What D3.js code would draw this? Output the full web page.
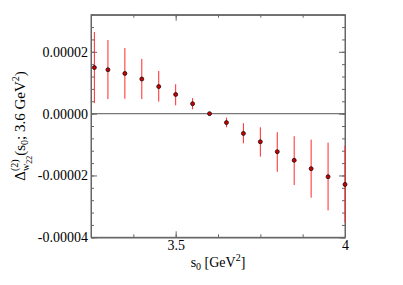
<!DOCTYPE html>
<html><head><meta charset="utf-8">
<script src="https://cdn.jsdelivr.net/npm/d3@7"></script>
<style>body{margin:0;background:#fff}</style>
</head><body>
<svg id="c" width="403" height="285"></svg>
<script>
const s0 = [3.26,3.30,3.35,3.40,3.45,3.50,3.55,3.60,3.65,3.70,3.75,3.80,3.85,3.90,3.95,4.00];
const delta = [14.9e-6,14.2e-6,13.0e-6,11.2e-6,8.75e-6,6.2e-6,3.2e-6,0,-2.9e-6,-6.4e-6,-9.1e-6,-12.3e-6,-15.1e-6,-17.8e-6,-20.4e-6,-22.9e-6];
const errHigh = [26.4e-6,23.8e-6,21.2e-6,17.7e-6,13.8e-6,9.5e-6,5.0e-6,0.2e-6,-1.3e-6,-3.1e-6,-4.4e-6,-6.0e-6,-7.3e-6,-8.4e-6,-9.4e-6,-10.4e-6];
const errLow = [3.4e-6,4.7e-6,4.8e-6,4.7e-6,3.9e-6,2.7e-6,1.4e-6,-0.2e-6,-4.4e-6,-9.6e-6,-13.9e-6,-18.8e-6,-23.1e-6,-27.2e-6,-31.3e-6,-35.2e-6];
const yTicks = [0.00002,0,-0.00002,-0.00004];
const yTickLabels = ["0.00002","0.00000","-0.00002","-0.00004"];
const xTicks = [3.5,4.0];
const xTickLabels = ["3.5","4"];

const svg = d3.select("#c");
const L=91, R=345, T=14.7, B=237.3;
const x = d3.scaleLinear().domain([3.25,4.0]).range([L,R]);
const y = d3.scaleLinear().domain([-0.00004,0.000032]).range([B,T]);
const font = "Liberation Serif";
const frameColor = "#666";

svg.append("line").attr("x1",L).attr("x2",R).attr("y1",y(0)).attr("y2",y(0))
  .attr("stroke","#777").attr("stroke-width",1.2);

const xMinor = d3.range(3.25,4.0001,0.125);
const yMinor = d3.range(-0.00004,0.0000321,0.000004);
function addAxis(axis, tr){
  const g = svg.append("g").attr("transform",tr).call(axis)
    .attr("font-family",font).attr("font-size",14);
  g.selectAll("path,line").attr("stroke",frameColor);
  g.selectAll("text").attr("fill","#000").style("font-family",font).style("font-size","14px");
  return g;
}
addAxis(d3.axisBottom(x).tickValues(xTicks).tickSizeInner(-6).tickSizeOuter(0)
  .tickFormat((d,i)=>xTickLabels[i]).tickPadding(3), `translate(0,${B})`);
addAxis(d3.axisBottom(x).tickValues(xMinor).tickSizeInner(-3).tickSizeOuter(0).tickFormat(""), `translate(0,${B})`);
addAxis(d3.axisTop(x).tickValues(xTicks).tickSizeInner(-6).tickSizeOuter(0).tickFormat(""), `translate(0,${T})`);
addAxis(d3.axisTop(x).tickValues(xMinor).tickSizeInner(-3).tickSizeOuter(0).tickFormat(""), `translate(0,${T})`);
addAxis(d3.axisLeft(y).tickValues(yTicks).tickSizeInner(-6).tickSizeOuter(0)
  .tickFormat((d,i)=>yTickLabels[i]).tickPadding(3), `translate(${L},0)`);
addAxis(d3.axisLeft(y).tickValues(yMinor).tickSizeInner(-3).tickSizeOuter(0).tickFormat(""), `translate(${L},0)`);
addAxis(d3.axisRight(y).tickValues(yTicks).tickSizeInner(-6).tickSizeOuter(0).tickFormat(""), `translate(${R},0)`);
addAxis(d3.axisRight(y).tickValues(yMinor).tickSizeInner(-3).tickSizeOuter(0).tickFormat(""), `translate(${R},0)`);

svg.append("rect").attr("x",L).attr("y",T).attr("width",R-L).attr("height",B-T)
  .attr("fill","none").attr("stroke",frameColor).attr("stroke-width",1);

const data = s0.map((v,i)=>({x:v,y:delta[i],hi:errHigh[i],lo:errLow[i]}));
svg.append("g").selectAll("line").data(data).join("line")
  .attr("x1",d=>x(d.x)).attr("x2",d=>x(d.x))
  .attr("y1",d=>y(d.hi)).attr("y2",d=>y(d.lo))
  .attr("stroke","#ff2a2a").attr("stroke-width",1);
svg.append("g").selectAll("circle").data(data).join("circle")
  .attr("cx",d=>x(d.x)).attr("cy",d=>y(d.y)).attr("r",2)
  .attr("fill","#cc0000").attr("stroke","#000").attr("stroke-width",0.7);

const xl = svg.append("text").attr("x",(L+R)/2).attr("y",267).attr("text-anchor","middle")
  .attr("font-family",font).attr("font-size",14);
xl.append("tspan").text("s");
xl.append("tspan").attr("dy",3).attr("font-size",10).text("0");
xl.append("tspan").attr("dy",-3).text(" [GeV");
xl.append("tspan").attr("dy",-6).attr("font-size",10).text("2");
xl.append("tspan").attr("dy",6).text("]");

const yl = svg.append("text").attr("transform",`translate(25,${(T+B)/2}) rotate(-90)`)
  .attr("text-anchor","middle").attr("font-family",font).attr("font-size",15);
yl.append("tspan").text("Δ");
yl.append("tspan").attr("dy",-7).attr("font-size",10).text("(2)");
yl.append("tspan").attr("dx",-11.7).attr("dy",11).attr("font-size",10).text("w");
yl.append("tspan").attr("dy",3).attr("font-size",8).text("22");
yl.append("tspan").attr("dy",-7).text("(s");
yl.append("tspan").attr("dy",3).attr("font-size",10).text("0");
yl.append("tspan").attr("dy",-3).text("; 3.6 GeV");
yl.append("tspan").attr("dy",-6).attr("font-size",10).text("2");
yl.append("tspan").attr("dy",6).text(")");
</script>
</body></html>
